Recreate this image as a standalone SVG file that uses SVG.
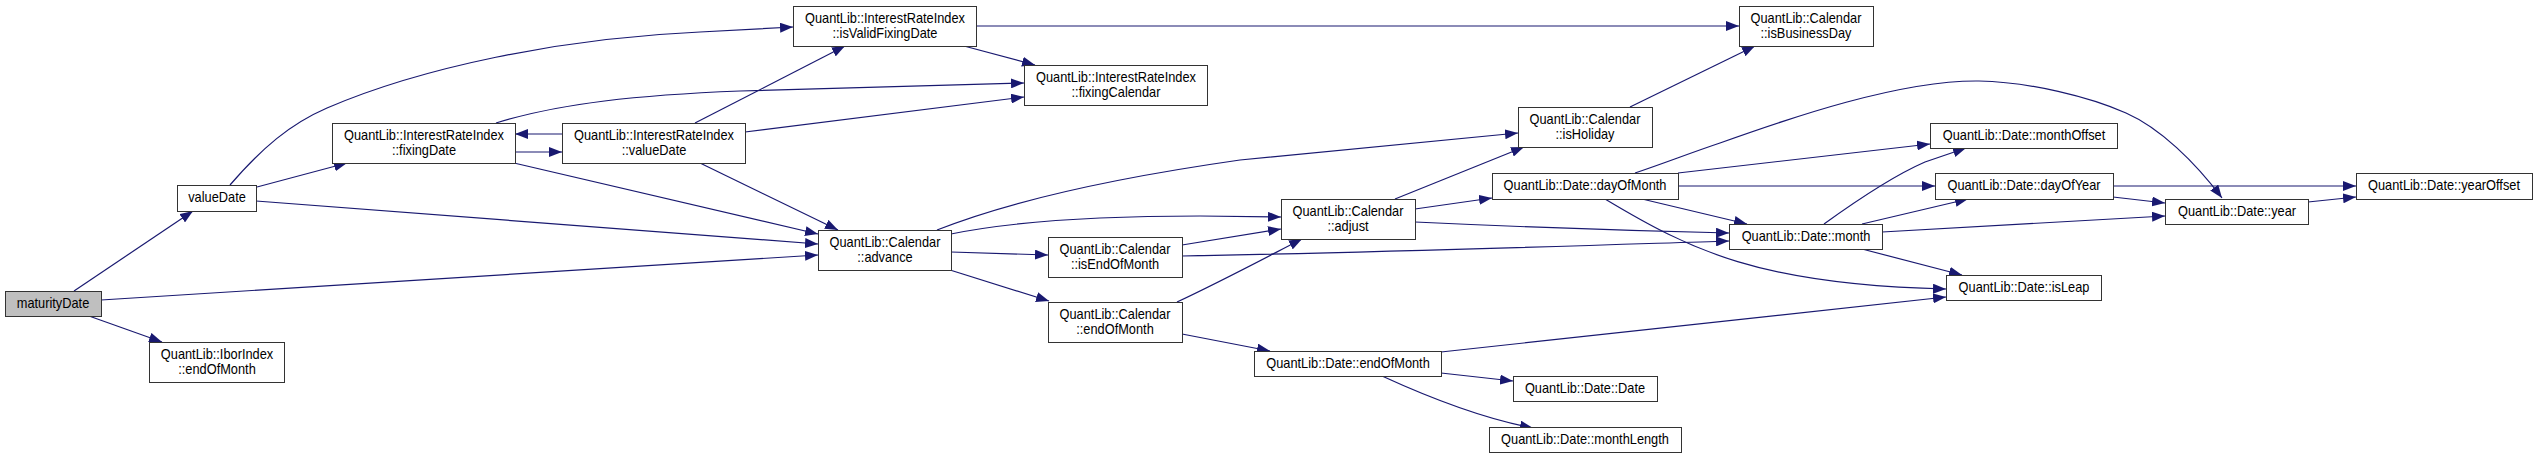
<svg xmlns="http://www.w3.org/2000/svg" width="2537" height="458" viewBox="0 0 2537 458">
<style>
.n rect{fill:#fff;stroke:#333;stroke-width:1}
.n.root rect{fill:#bfbfbf}
.n text{font-family:"Liberation Sans",Arial,sans-serif;font-size:14px;fill:#000;text-anchor:middle}
.e path{fill:none;stroke:#191970;stroke-width:1.2;marker-end:url(#arr)}
</style>
<defs>
<marker id="arr" markerWidth="13" markerHeight="10" refX="13" refY="5" orient="auto" markerUnits="userSpaceOnUse">
<path d="M0,0 L13,5 L0,10 z" fill="#191970"/>
</marker>
</defs>
<rect width="2537" height="458" fill="#fff"/>
<g id="edges" class="e">
<path d="M74,291 L193,211"/>
<path d="M101,300 L818,255"/>
<path d="M89,316 L162,342"/>
<path d="M230,185 C262,148 290,124 327,108 C420,68 560,38 700,32 L793,27"/>
<path d="M257,187 L347,163"/>
<path d="M256,201 L818,244"/>
<path d="M515,152 L562,152"/>
<path d="M562,134 L515,134"/>
<path d="M496,123 C560,103 640,95 740,91 L1024,83"/>
<path d="M514,163 L818,234"/>
<path d="M695,123 L845,46"/>
<path d="M745,132 L1024,97"/>
<path d="M700,163 L838,230"/>
<path d="M964,46 L1035,65"/>
<path d="M976,26 L1739,26"/>
<path d="M937,230 C1000,205 1100,180 1240,160 L1518,133"/>
<path d="M951,234 C1010,222 1100,216 1200,216 L1281,217"/>
<path d="M951,252 L1048,255"/>
<path d="M950,270 L1049,301"/>
<path d="M1182,245 L1281,229"/>
<path d="M1182,256 C1400,252 1600,245 1729,241"/>
<path d="M1177,302 C1220,282 1265,258 1302,239"/>
<path d="M1182,334 L1270,351"/>
<path d="M1395,199 L1524,147"/>
<path d="M1415,209 L1492,198"/>
<path d="M1415,222 C1500,226 1600,230 1729,233"/>
<path d="M1630,107 L1755,46"/>
<path d="M1635,173 C1665,163 1690,153 1720,143 C1790,118 1900,80 1979,81 C2030,82 2090,97 2126,113 C2160,128 2195,162 2222,198"/>
<path d="M1678,173 L1930,144"/>
<path d="M1678,186 L1935,186"/>
<path d="M1642,199 L1747,224"/>
<path d="M1605,199 C1690,250 1760,285 1946,289"/>
<path d="M1824,224 C1860,198 1895,175 1925,162 L1966,148"/>
<path d="M1862,224 L1968,199"/>
<path d="M1882,232 L2165,216"/>
<path d="M1862,249 L1962,275"/>
<path d="M2113,186 L2356,186"/>
<path d="M2113,197 L2165,203"/>
<path d="M2308,202 L2356,197"/>
<path d="M1441,352 L1946,297"/>
<path d="M1441,373 L1513,381"/>
<path d="M1382,376 C1430,398 1480,418 1533,428"/>
</g>
<g id="maturityDate" class="n root"><rect x="5.5" y="291.5" width="96" height="25"/><text transform="translate(53 0) scale(.914 1)" y="308">maturityDate</text></g>
<g id="valueDate" class="n"><rect x="177.5" y="185.5" width="79" height="26"/><text transform="translate(217 0) scale(.914 1)" y="202">valueDate</text></g>
<g id="IborIndex_endOfMonth" class="n"><rect x="149.5" y="342.5" width="135" height="40"/><text transform="translate(217 0) scale(.914 1)" y="359">QuantLib::IborIndex</text><text transform="translate(217 0) scale(.914 1)" y="374">::endOfMonth</text></g>
<g id="IRI_fixingDate" class="n"><rect x="332.5" y="123.5" width="183" height="40"/><text transform="translate(424 0) scale(.914 1)" y="140">QuantLib::InterestRateIndex</text><text transform="translate(424 0) scale(.914 1)" y="155">::fixingDate</text></g>
<g id="IRI_valueDate" class="n"><rect x="562.5" y="123.5" width="183" height="40"/><text transform="translate(654 0) scale(.914 1)" y="140">QuantLib::InterestRateIndex</text><text transform="translate(654 0) scale(.914 1)" y="155">::valueDate</text></g>
<g id="IRI_isValidFixingDate" class="n"><rect x="793.5" y="6.5" width="183" height="40"/><text transform="translate(885 0) scale(.914 1)" y="23">QuantLib::InterestRateIndex</text><text transform="translate(885 0) scale(.914 1)" y="38">::isValidFixingDate</text></g>
<g id="IRI_fixingCalendar" class="n"><rect x="1024.5" y="65.5" width="183" height="40"/><text transform="translate(1116 0) scale(.914 1)" y="82">QuantLib::InterestRateIndex</text><text transform="translate(1116 0) scale(.914 1)" y="97">::fixingCalendar</text></g>
<g id="Calendar_advance" class="n"><rect x="818.5" y="230.5" width="133" height="40"/><text transform="translate(885 0) scale(.914 1)" y="247">QuantLib::Calendar</text><text transform="translate(885 0) scale(.914 1)" y="262">::advance</text></g>
<g id="Calendar_isEndOfMonth" class="n"><rect x="1048.5" y="237.5" width="134" height="40"/><text transform="translate(1115 0) scale(.914 1)" y="254">QuantLib::Calendar</text><text transform="translate(1115 0) scale(.914 1)" y="269">::isEndOfMonth</text></g>
<g id="Calendar_endOfMonth" class="n"><rect x="1048.5" y="302.5" width="134" height="40"/><text transform="translate(1115 0) scale(.914 1)" y="319">QuantLib::Calendar</text><text transform="translate(1115 0) scale(.914 1)" y="334">::endOfMonth</text></g>
<g id="Calendar_isBusinessDay" class="n"><rect x="1739.5" y="6.5" width="134" height="40"/><text transform="translate(1806 0) scale(.914 1)" y="23">QuantLib::Calendar</text><text transform="translate(1806 0) scale(.914 1)" y="38">::isBusinessDay</text></g>
<g id="Calendar_isHoliday" class="n"><rect x="1518.5" y="107.5" width="134" height="40"/><text transform="translate(1585 0) scale(.914 1)" y="124">QuantLib::Calendar</text><text transform="translate(1585 0) scale(.914 1)" y="139">::isHoliday</text></g>
<g id="Calendar_adjust" class="n"><rect x="1281.5" y="199.5" width="134" height="40"/><text transform="translate(1348 0) scale(.914 1)" y="216">QuantLib::Calendar</text><text transform="translate(1348 0) scale(.914 1)" y="231">::adjust</text></g>
<g id="Date_dayOfMonth" class="n"><rect x="1492.5" y="173.5" width="186" height="26"/><text transform="translate(1585 0) scale(.914 1)" y="190">QuantLib::Date::dayOfMonth</text></g>
<g id="Date_month" class="n"><rect x="1729.5" y="224.5" width="153" height="25"/><text transform="translate(1806 0) scale(.914 1)" y="241">QuantLib::Date::month</text></g>
<g id="Date_endOfMonth" class="n"><rect x="1254.5" y="351.5" width="187" height="25"/><text transform="translate(1348 0) scale(.914 1)" y="368">QuantLib::Date::endOfMonth</text></g>
<g id="Date_Date" class="n"><rect x="1513.5" y="376.5" width="144" height="25"/><text transform="translate(1585 0) scale(.914 1)" y="393">QuantLib::Date::Date</text></g>
<g id="Date_monthLength" class="n"><rect x="1489.5" y="427.5" width="192" height="25"/><text transform="translate(1585 0) scale(.914 1)" y="444">QuantLib::Date::monthLength</text></g>
<g id="Date_monthOffset" class="n"><rect x="1930.5" y="123.5" width="187" height="25"/><text transform="translate(2024 0) scale(.914 1)" y="140">QuantLib::Date::monthOffset</text></g>
<g id="Date_dayOfYear" class="n"><rect x="1935.5" y="173.5" width="178" height="26"/><text transform="translate(2024 0) scale(.914 1)" y="190">QuantLib::Date::dayOfYear</text></g>
<g id="Date_year" class="n"><rect x="2165.5" y="199.5" width="143" height="25"/><text transform="translate(2237 0) scale(.914 1)" y="216">QuantLib::Date::year</text></g>
<g id="Date_yearOffset" class="n"><rect x="2356.5" y="173.5" width="176" height="26"/><text transform="translate(2444 0) scale(.914 1)" y="190">QuantLib::Date::yearOffset</text></g>
<g id="Date_isLeap" class="n"><rect x="1946.5" y="275.5" width="155" height="25"/><text transform="translate(2024 0) scale(.914 1)" y="292">QuantLib::Date::isLeap</text></g>
</svg>
